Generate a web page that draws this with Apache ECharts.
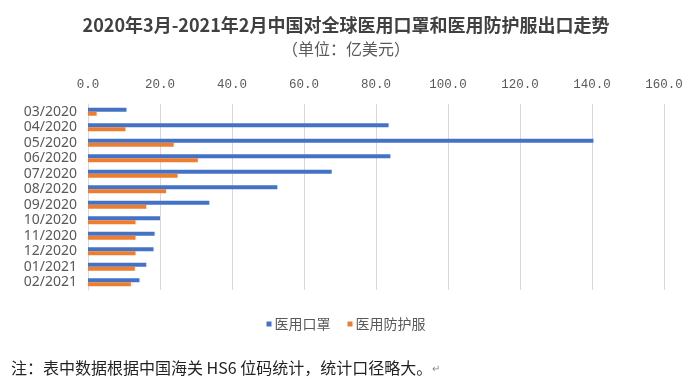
<!DOCTYPE html>
<html><head><meta charset="utf-8">
<script src="https://cdn.jsdelivr.net/npm/echarts@6/dist/echarts.min.js"></script>
<style>html,body{margin:0;padding:0;background:#fff}#c{width:692px;height:380px}</style>
</head><body><div id="c"></div>
<script>
const categories = ['03/2020','04/2020','05/2020','06/2020','07/2020','08/2020','09/2020','10/2020','11/2020','12/2020','01/2021','02/2021'];
const masks = [10.7, 83.5, 140.4, 84.0, 67.7, 52.6, 33.7, 20.0, 18.5, 18.2, 16.2, 14.3];
const suits = [2.4, 10.4, 23.8, 30.5, 24.9, 21.7, 16.2, 13.2, 13.2, 13.2, 13.0, 11.9];
const seriesNames = ['医用口罩', '医用防护服'];
const titleText = '2020年3月-2021年2月中国对全球医用口罩和医用防护服出口走势';
const subtitleText = '（单位：亿美元）';
const noteText = '注：表中数据根据中国海关 HS6 位码统计，统计口径略大。';

const cjk = '"Noto Sans CJK SC", "Noto Sans", sans-serif';
const chart = echarts.init(document.getElementById('c'));
chart.setOption({
  animation: false,
  backgroundColor: '#ffffff',
  title: [
    { text: titleText, left: 'center', top: 11,
      textStyle: { fontFamily: cjk, fontSize: 18, fontWeight: 'bold', color: '#404040' } },
    { text: subtitleText, left: 'center', top: 36,
      textStyle: { fontFamily: cjk, fontSize: 16, fontWeight: 'normal', color: '#595959' } },
    { text: noteText + '{r|↵}', left: 6, top: 355,
      textStyle: { fontFamily: cjk, fontSize: 16, fontWeight: 'normal', color: '#222',
        rich: { r: { fontSize: 10, color: '#888', fontFamily: cjk } } } }
  ],
  legend: {
    data: seriesNames, top: 312, left: 'center', icon: 'rect',
    itemWidth: 5, itemHeight: 5, itemGap: 17,
    textStyle: { fontFamily: cjk, fontSize: 14, color: '#595959', padding: [0, 0, 0, -2] }
  },
  grid: { left: 88, right: 28, top: 104, height: 186 },
  xAxis: {
    type: 'value', position: 'top', min: 0, max: 160, interval: 20,
    axisLine: { show: false }, axisTick: { show: false },
    splitLine: { lineStyle: { color: '#d9d9d9', width: 1 } },
    axisLabel: { margin: 13, color: '#595959', fontSize: 12.5, fontFamily: '"Liberation Mono", monospace',
      formatter: v => v.toFixed(1) }
  },
  yAxis: {
    type: 'category', data: categories, inverse: true,
    axisLine: { lineStyle: { color: '#d9d9d9' } }, axisTick: { show: false },
    axisLabel: { interval: 0, margin: 11, color: '#595959', fontSize: 14, fontFamily: '"Noto Sans", sans-serif' }
  },
  series: [
    { name: seriesNames[0], type: 'bar', data: masks, barWidth: 4, barGap: '0%',
      itemStyle: { color: '#4472C4' } },
    { name: seriesNames[1], type: 'bar', data: suits, barWidth: 4, barGap: '0%',
      itemStyle: { color: '#ED7D31' } }
  ]
});
</script></body></html>
